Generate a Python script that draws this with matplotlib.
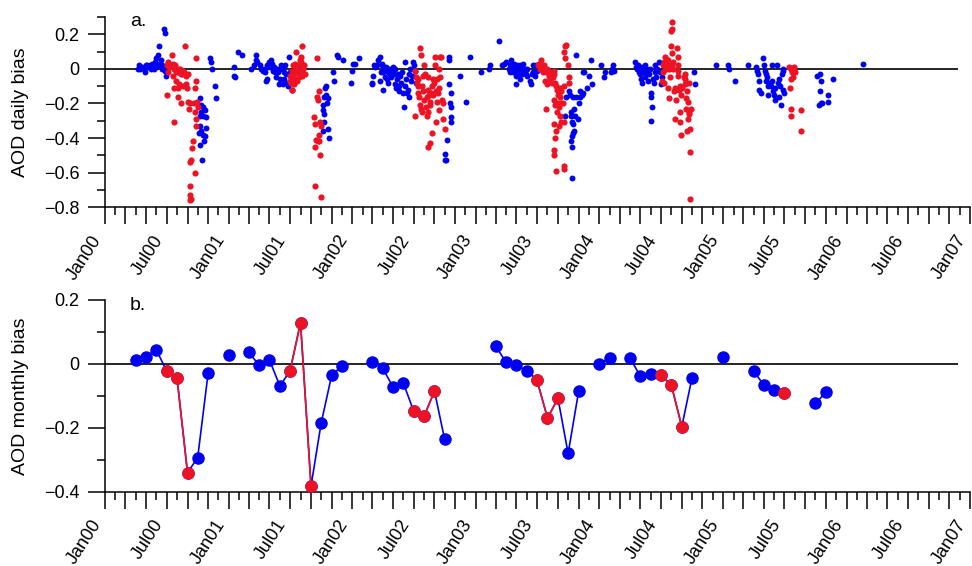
import numpy as np
import matplotlib
matplotlib.use("Agg")
import matplotlib.pyplot as plt
import matplotlib.dates as mdates
from matplotlib.ticker import MultipleLocator, FuncFormatter

plt.rcParams['font.family'] = ['Liberation Sans', 'DejaVu Sans']
plt.rcParams['axes.linewidth'] = 1.1

# daily AOD bias, days counted from 2000-01-01
blue_days = [98, 102, 105, 110, 115, 118, 120, 125, 128, 132, 135, 140, 145, 148, 150, 152, 155, 158, 160, 162,
             165, 168, 170, 172, 175, 176, 180, 178,
             280, 285, 290, 295, 285, 280, 290, 298, 282, 278, 285, 290, 295, 300, 292, 280, 288, 310, 312, 315,
             325, 327, 380, 382, 385, 392, 404, 432, 440, 445, 447, 448,
             458, 461, 466, 470, 473, 476, 478, 480, 483, 486, 488, 490, 493, 496, 498, 500, 503, 506, 508, 510,
             513, 516, 518, 520, 523, 526, 528, 530, 533, 536, 538, 540, 543, 546,
             643, 648, 653, 650, 653, 658, 656, 643, 648, 646, 643, 658, 663, 673, 676, 686, 690, 704, 728, 730,
             733, 738, 750,
             788, 790, 793, 796, 798, 803, 808, 813, 813, 816, 818, 820, 823, 823, 826, 828, 830, 833, 836, 838,
             840, 843, 846, 848, 850, 853, 856, 858, 860, 863, 866, 868, 870, 873, 876, 878, 880, 883, 886, 888,
             890, 893, 896, 898, 900, 903, 906, 908, 910, 913, 916, 918,
             1004, 1004, 1009, 1011, 1016, 1016, 1018, 1024, 1020, 1022, 1024, 1022, 1048, 1066, 1078, 1111,
             1134, 1138, 1166, 1174, 1178, 1184,
             1194, 1196, 1198, 1201, 1204, 1206, 1208, 1211, 1214, 1216, 1216, 1218, 1221, 1224, 1226, 1228,
             1231, 1234, 1236, 1238, 1241, 1244, 1246, 1248, 1256, 1258, 1261, 1264, 1266, 1271, 1274, 1278,
             1361, 1364, 1371, 1374, 1376, 1378, 1381, 1384, 1386, 1384, 1381, 1378, 1380, 1379, 1384, 1388,
             1385, 1393, 1397, 1400, 1403, 1405, 1410, 1413, 1413, 1417, 1425, 1430, 1437, 1440, 1391, 1467,
             1475, 1477, 1500, 1497, 1503, 1505,
             1567, 1570, 1573, 1575, 1577, 1580, 1583, 1585, 1587, 1590, 1593, 1595, 1597, 1600, 1603, 1605,
             1607, 1610, 1613, 1615, 1617, 1613, 1620, 1623, 1625, 1627, 1630, 1633, 1637, 1640, 1643, 1645,
             1740, 1745, 1807, 1843, 1845,
             1861, 1901, 1925, 1928, 1931, 1933, 1938, 1933, 1945, 1948, 1951, 1953, 1955, 1958, 1961, 1961,
             1963, 1968, 1971, 1973, 1975, 1978, 1981, 1981, 1985, 1988, 1991, 1993, 1995, 1998, 2001, 2003,
             2005, 2008, 2005,
             2105, 2113, 2115, 2113, 2111, 2115, 2118, 2138, 2138, 2153, 2241]
blue_bias = [0.00, 0.02, 0.00, 0.01, 0.00, -0.02, 0.02, 0.02, 0.01, 0.02, 0.00, 0.03, 0.00, 0.04, 0.01, 0.06, 0.03, 0.08, 0.13, 0.02,
             0.05, 0.02, 0.00, 0.01, 0.23, 0.21, -0.04, -0.01,
             -0.17, -0.21, -0.22, -0.24, -0.25, -0.27, -0.27, -0.28, -0.33, -0.37, -0.36, -0.38, -0.39, -0.34, -0.42, -0.44, -0.53, 0.06, 0.04, 0.00,
             -0.10, -0.17, 0.01, -0.04, -0.05, 0.10, 0.08, 0.00, 0.02, 0.08, 0.05, 0.04,
             0.02, 0.00, -0.01, 0.00, -0.02, -0.07, -0.06, 0.02, 0.01, 0.04, 0.02, 0.05, 0.03, 0.00, -0.01, 0.01, -0.02, -0.05, 0.00, -0.02,
             -0.09, -0.06, 0.00, 0.02, 0.01, -0.09, -0.02, -0.06, 0.02, -0.03, -0.08, -0.10, 0.07, -0.02,
             -0.21, -0.16, -0.15, -0.11, -0.10, -0.17, -0.20, -0.24, -0.26, -0.31, -0.36, -0.35, -0.40, -0.02, -0.07, 0.08, 0.07, 0.05, -0.08, -0.01,
             0.03, 0.03, 0.06,
             -0.08, -0.09, -0.04, 0.02, 0.01, 0.02, 0.05, 0.07, -0.07, -0.02, 0.03, 0.02, -0.12, -0.02, 0.00, -0.05, 0.01, -0.06, -0.02, -0.08,
             0.00, -0.03, -0.05, -0.01, 0.01, -0.03, 0.00, -0.09, -0.11, -0.06, -0.03, -0.13, -0.10, -0.04, -0.08, -0.02, -0.14, -0.22, -0.10, 0.04,
             -0.06, -0.14, -0.12, -0.16, -0.03, 0.00, -0.07, -0.04, 0.04, 0.02, -0.01, -0.08,
             -0.49, -0.53, -0.53, -0.41, 0.07, 0.05, -0.09, -0.14, -0.20, -0.22, -0.28, -0.31, -0.04, -0.19, 0.07, -0.02,
             0.00, 0.02, 0.16, 0.02, 0.03, 0.04,
             0.00, 0.02, -0.02, 0.05, 0.01, -0.02, 0.03, 0.00, -0.04, -0.09, -0.01, 0.02, -0.03, 0.00, -0.06, 0.02,
             0.00, -0.03, 0.03, -0.02, 0.00, -0.03, 0.00, -0.04, -0.07, -0.09, -0.03, 0.02, -0.02, -0.04, 0.02, -0.01,
             -0.27, -0.16, -0.13, -0.15, -0.25, -0.27, -0.31, -0.32, -0.36, -0.37, -0.39, -0.42, -0.45, -0.63, -0.16, -0.27,
             -0.23, -0.16, -0.29, -0.20, -0.13, -0.16, -0.15, -0.14, -0.02, -0.02, -0.11, -0.04, 0.05, -0.09, 0.08, 0.02,
             -0.05, -0.02, 0.00, -0.02, 0.02, -0.01,
             0.04, 0.01, 0.00, 0.02, -0.02, -0.03, 0.01, -0.06, -0.08, 0.00, -0.02, 0.02, -0.05, -0.02, 0.00, -0.07,
             -0.03, 0.00, -0.16, -0.14, -0.22, -0.30, -0.06, -0.08, 0.02, -0.02, -0.05, 0.00, 0.04, -0.02, -0.09, -0.05,
             -0.02, -0.09, 0.02, 0.02, 0.00,
             -0.07, 0.02, 0.01, -0.01, -0.03, -0.07, -0.14, -0.12, 0.06, 0.02, -0.01, -0.03, -0.07, -0.05, -0.10, -0.15,
             -0.08, -0.10, 0.02, -0.07, -0.13, -0.15, -0.18, -0.11, 0.02, -0.08, -0.06, -0.16, -0.10, -0.21, -0.03, -0.12,
             -0.01, -0.14, 0.00,
             -0.04, -0.03, -0.07, -0.13, -0.21, -0.20, -0.20, -0.15, -0.19, -0.06, 0.03]

red_days = [182, 185, 188, 190, 192, 195, 198, 200, 203, 205, 208, 210, 212, 215, 218, 220, 222, 225, 228, 230,
            232, 235, 238, 240, 245,
            185, 183, 200, 205, 210, 215, 218, 215, 205, 225, 232, 240, 242, 245, 248, 252, 255, 252, 250, 250,
            252, 253, 258, 260, 262, 265, 265, 268, 270, 268, 265, 270, 272, 275,
            548, 550, 553, 553, 556, 558, 560, 563, 565, 566, 568, 570, 573, 573, 576, 578, 578, 580, 581, 583,
            586, 588, 590, 558, 546, 554,
            628, 632, 626, 630, 618, 620, 636, 640, 633, 630, 623, 620, 633, 636, 622, 638,
            916, 916, 919, 921, 924, 926, 926, 928, 931, 931, 934, 934, 936, 938, 941, 941, 944, 944, 946, 948,
            951, 951, 954, 956, 956, 958, 961, 961, 964, 966, 968, 971, 971, 974, 976, 976, 978, 978, 981, 981,
            984, 986, 986, 988, 991, 991, 994, 996, 998, 999, 1004, 956, 960,
            1281, 1284, 1286, 1288, 1291, 1294, 1296, 1298, 1301, 1301, 1304, 1306, 1308, 1311, 1314, 1316,
            1318, 1321, 1324, 1326, 1328, 1331, 1334, 1336, 1338, 1341, 1344, 1346, 1348, 1338, 1326, 1331,
            1336, 1341, 1346, 1348, 1354, 1356, 1356, 1361, 1364, 1361, 1368, 1371, 1371, 1304, 1328, 1334,
            1331, 1328, 1326, 1334, 1356, 1358, 1348, 1358, 1341,
            1647, 1650, 1653, 1655, 1657, 1660, 1663, 1665, 1667, 1670, 1673, 1673, 1675, 1675, 1677, 1680,
            1680, 1683, 1685, 1685, 1687, 1690, 1693, 1693, 1695, 1695, 1697, 1700, 1700, 1700, 1703, 1703,
            1707, 1710, 1713, 1713, 1715, 1717, 1717, 1720, 1720, 1723, 1725, 1725, 1727, 1730, 1733, 1730,
            1730, 1723, 1650, 1660, 1665, 1667, 1675, 1653,
            2023, 2028, 2031, 2033, 2028, 2038, 2041, 2025, 2028, 2028, 2058, 2058]
red_bias = [0.02, 0.04, 0.03, 0.01, 0.02, 0.02, 0.08, 0.03, 0.00, 0.01, 0.02, -0.01, -0.02, 0.00, -0.01, -0.02, 0.00, -0.03, -0.02, -0.01,
            -0.03, -0.02, 0.13, -0.04, -0.03,
            -0.02, -0.15, -0.04, -0.11, -0.07, -0.11, -0.09, -0.16, -0.31, -0.20, -0.10, -0.09, -0.11, -0.19, -0.23, -0.20, -0.53, -0.54, -0.68, -0.73,
            -0.76, -0.75, -0.46, -0.42, -0.20, -0.25, -0.11, -0.07, 0.06, -0.29, -0.60, -0.33, -0.19, -0.22,
            -0.04, -0.08, -0.12, -0.01, 0.02, -0.06, -0.03, 0.03, 0.10, 0.00, -0.07, -0.02, -0.05, 0.02, 0.05, 0.04, 0.07, -0.01, 0.13, -0.04,
            0.00, 0.02, -0.03, -0.09, -0.07, -0.12,
            0.06, -0.13, -0.16, -0.18, -0.28, -0.32, -0.31, -0.33, -0.38, -0.42, -0.41, -0.45, -0.42, -0.50, -0.68, -0.74,
            -0.27, -0.01, -0.05, -0.08, -0.06, -0.14, -0.10, -0.16, 0.12, -0.21, 0.08, -0.23, -0.10, -0.25, -0.04, -0.13, 0.02, -0.18, -0.03, -0.22,
            -0.16, -0.27, -0.05, -0.12, -0.25, -0.15, -0.21, -0.19, -0.14, -0.10, -0.37, -0.06, -0.15, -0.08, 0.07, 0.02, -0.13, -0.31, -0.06, -0.19,
            -0.14, -0.11, -0.24, 0.00, -0.05, 0.07, 0.07, -0.18, -0.20, -0.29, -0.35, -0.45, -0.43,
            0.02, 0.03, 0.00, 0.05, 0.01, -0.02, 0.00, 0.02, -0.01, -0.07, -0.02, -0.09, 0.00, -0.04, -0.02, -0.06,
            -0.03, -0.08, -0.05, -0.01, -0.03, -0.08, -0.10, -0.12, -0.15, -0.14, -0.11, -0.16, -0.13, -0.20, -0.18, -0.21,
            -0.25, -0.22, -0.27, -0.20, -0.20, -0.10, 0.10, 0.13, 0.14, 0.06, 0.02, -0.05, -0.08, -0.23, -0.32, -0.36,
            -0.40, -0.47, -0.50, -0.59, -0.56, -0.58, -0.31, -0.31, -0.33,
            -0.07, 0.02, 0.04, 0.07, 0.00, 0.05, 0.02, -0.11, -0.17, -0.05, 0.13, 0.22, 0.23, 0.27, 0.09, 0.04,
            0.00, -0.13, -0.11, -0.29, -0.18, 0.12, 0.07, 0.02, -0.01, -0.04, -0.12, -0.10, -0.25, -0.31, -0.15, -0.38,
            -0.11, -0.05, -0.03, -0.09, -0.06, -0.17, -0.23, -0.13, -0.36, -0.19, -0.25, -0.08, -0.26, -0.35, -0.23, -0.48,
            -0.75, -0.29, -0.02, 0.03, 0.05, 0.00, 0.02, -0.08,
            0.01, 0.00, -0.02, -0.05, -0.06, 0.01, -0.02, -0.11, -0.23, -0.27, -0.24, -0.36]

# monthly AOD bias
mon_dates = ['2000-04', '2000-05', '2000-06', '2000-07', '2000-08', '2000-09', '2000-10', '2000-11',
             '2001-01', '2001-03', '2001-04', '2001-05', '2001-06', '2001-07', '2001-08', '2001-09',
             '2001-10', '2001-11', '2001-12',
             '2002-03', '2002-04', '2002-05', '2002-06', '2002-07', '2002-08', '2002-09', '2002-10',
             '2003-03', '2003-04', '2003-05', '2003-06', '2003-07', '2003-08', '2003-09', '2003-10', '2003-11',
             '2004-01', '2004-02', '2004-04', '2004-05', '2004-06', '2004-07', '2004-08', '2004-09', '2004-10',
             '2005-01', '2005-04', '2005-05', '2005-06', '2005-07', '2005-10', '2005-11']
mon_bias = [0.013, 0.023, 0.044, -0.022, -0.045, -0.340, -0.293, -0.028,
            0.029, 0.036, -0.004, 0.013, -0.069, -0.022, 0.129, -0.382, -0.185, -0.036, -0.006,
            0.006, -0.014, -0.071, -0.060, -0.146, -0.164, -0.085, -0.236,
            0.055, 0.005, -0.004, -0.021, -0.051, -0.169, -0.108, -0.280, -0.086,
            0.001, 0.018, 0.019, -0.038, -0.030, -0.036, -0.066, -0.196, -0.044,
            0.023, -0.022, -0.065, -0.083, -0.091, -0.123, -0.089]
red_months = [7, 8, 9]

BLUE = '#0000f0'
RED = '#ec1424'

t0 = np.datetime64('2000-01-01')
bd = t0 + np.array(blue_days).astype('timedelta64[D]')
rd = t0 + np.array(red_days).astype('timedelta64[D]')

# full monthly axis with gaps as NaN so lines break
all_months = np.arange(np.datetime64('2000-04'), np.datetime64('2005-12'))
mvals = np.full(len(all_months), np.nan)
for d, v in zip(mon_dates, mon_bias):
    mvals[np.where(all_months == np.datetime64(d))[0][0]] = v
mmon = (all_months.astype(int) % 12) + 1
mred = np.where(np.isin(mmon, red_months), mvals, np.nan)
mx = all_months.astype('datetime64[D]')

fig = plt.figure(figsize=(9.72, 5.66), dpi=100)
ax1 = fig.add_axes([0.108, 0.634, 0.890, 0.336])
ax2 = fig.add_axes([0.108, 0.131, 0.890, 0.339])

xmin = np.datetime64('2000-01-01')
xmax = np.datetime64('2007-01-01')
zero_end = np.datetime64('2006-11-25')


def fmt_month(x, pos):
    d = mdates.num2date(x)
    if d.month in (1, 7):
        return d.strftime('%b') + d.strftime('%y')
    return ''


def fmt_y(v, pos):
    if abs(v) < 1e-9:
        return '0'
    return f'{v:.1f}'.replace('-', '\u2212')


def style_axis(ax):
    ax.hlines(0, xmin, zero_end, color='black', lw=1.2, zorder=1)
    ax.set_xlim(xmin, xmax)
    for s in ('top', 'right'):
        ax.spines[s].set_visible(False)
    ax.xaxis.set_major_locator(mdates.MonthLocator(bymonth=[1, 3, 5, 7, 9, 11]))
    ax.xaxis.set_minor_locator(mdates.MonthLocator())
    ax.xaxis.set_major_formatter(FuncFormatter(fmt_month))
    ax.yaxis.set_major_formatter(FuncFormatter(fmt_y))
    ax.yaxis.set_major_locator(MultipleLocator(0.2))
    ax.yaxis.set_minor_locator(MultipleLocator(0.1))
    ax.tick_params(which='major', direction='out', length=12, width=1.1, labelsize=13)
    ax.tick_params(which='minor', direction='out', length=6, width=1.1)
    ax.tick_params(axis='x', which='major', pad=6, labelrotation=57)
    ax.tick_params(axis='y', which='major', pad=6.5)
    for lab in ax.get_xticklabels():
        lab.set_ha('right')
        lab.set_va('top')


# a. daily
style_axis(ax1)
ax1.scatter(bd, blue_bias, s=18, color=BLUE, linewidths=0, zorder=3)
ax1.scatter(rd, red_bias, s=20, color=RED, linewidths=0, zorder=4)
ax1.set_ylim(-0.8, 0.3)
ax1.set_ylabel('AOD daily bias', fontsize=14)
ax1.yaxis.set_label_coords(-0.088, 0.5)
ax1.text(0.029, 0.955, 'a.', transform=ax1.transAxes, fontsize=14, va='baseline')

# b. monthly
style_axis(ax2)
ax2.plot(mx, mvals, '-o', color=BLUE, lw=1.2, ms=8, zorder=3)
ax2.plot(mx, mred, '-o', color=RED, lw=1.2, ms=8, zorder=4)
ax2.set_ylim(-0.4, 0.2)
ax2.set_ylabel('AOD monthly bias', fontsize=14)
ax2.yaxis.set_label_coords(-0.088, 0.5)
ax2.text(0.029, 0.948, 'b.', transform=ax2.transAxes, fontsize=14, va='baseline')

fig.savefig('out.png', dpi=100)
